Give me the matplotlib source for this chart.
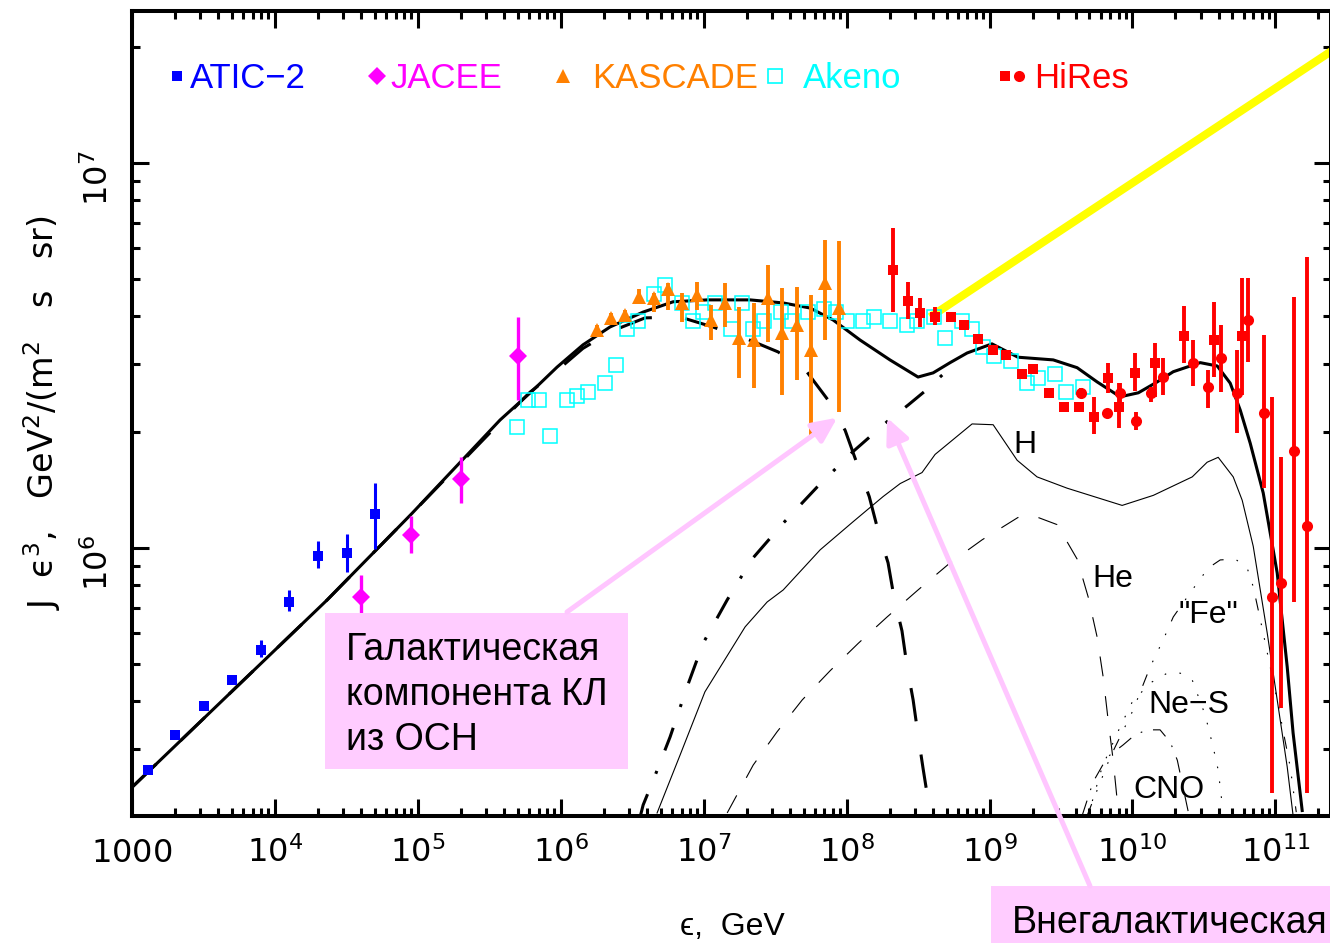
import numpy as np
import matplotlib
matplotlib.use('Agg')
import matplotlib.pyplot as plt
from matplotlib import ticker
from matplotlib.patches import Rectangle, ConnectionPatch
from matplotlib.lines import Line2D

plt.rcParams['font.family'] = ['Liberation Sans', 'DejaVu Sans']
plt.rcParams['mathtext.fontset'] = 'dejavusans'

# ---------------- data (E in GeV, J*E^3) ----------------
atic_e = [1.3e3, 2.0e3, 3.2e3, 5.0e3, 8.0e3, 1.26e4, 2.0e4, 3.2e4, 5.0e4]
atic_j = [2.65e5, 3.27e5, 3.89e5, 4.54e5, 5.43e5, 7.24e5, 9.54e5, 9.7e5, 1.225e6]
atic_lo = [2.61e5, 3.22e5, 3.83e5, 4.42e5, 5.21e5, 6.85e5, 8.87e5, 8.66e5, 9.94e5]
atic_hi = [2.69e5, 3.32e5, 3.95e5, 4.67e5, 5.77e5, 7.8e5, 1.04e6, 1.09e6, 1.475e6]

jacee_e = [4.0e4, 9.0e4, 2.0e5, 5.0e5]
jacee_j = [7.46e5, 1.08e6, 1.51e6, 3.15e6]
jacee_lo = [6.55e5, 9.7e5, 1.31e6, 2.42e6]
jacee_hi = [8.51e5, 1.21e6, 1.72e6, 3.98e6]

kascade_e = [1.78e6, 2.24e6, 2.82e6, 3.55e6, 4.47e6, 5.62e6, 7.08e6, 8.91e6, 1.12e7,
             1.41e7, 1.78e7, 2.24e7, 2.82e7, 3.55e7, 4.47e7, 5.62e7, 7.08e7, 8.91e7]
kascade_j = [3.68e6, 3.95e6, 4.03e6, 4.49e6, 4.46e6, 4.71e6, 4.33e6, 4.54e6, 3.91e6,
             4.33e6, 3.51e6, 3.47e6, 4.46e6, 3.61e6, 3.79e6, 3.27e6, 4.88e6, 4.2e6]
kascade_lo = [3.57e6, 3.83e6, 3.91e6, 4.3e6, 4.1e6, 4.15e6, 3.87e6, 4.15e6, 3.47e6,
              3.75e6, 2.77e6, 2.61e6, 3.43e6, 2.49e6, 2.73e6, 1.94e6, 3.47e6, 2.25e6]
kascade_hi = [3.79e6, 4.07e6, 4.15e6, 4.7e6, 4.6e6, 4.88e6, 4.59e6, 4.91e6, 4.28e6,
              4.88e6, 4.23e6, 4.33e6, 5.43e6, 4.73e6, 4.76e6, 4.54e6, 6.31e6, 6.27e6]

akeno_e = [4.94e5, 5.9e5, 7.05e5, 8.41e5, 1.11e6, 1.30e6, 1.55e6, 2.04e6, 2.44e6, 2.91e6,
           3.48e6, 4.50e6, 5.37e6, 7.06e6, 8.43e6, 9.9e6, 1.2e7, 1.56e7, 1.86e7, 2.22e7,
           2.65e7, 3.48e7, 4.16e7, 5.38e7, 6.97e7, 8.45e7, 1.01e8, 1.30e8, 1.56e8, 2.01e8,
           2.65e8, 3.11e8, 4.09e8, 4.89e8, 6.43e8, 7.55e8, 9.02e8, 1.08e9, 1.42e9, 1.83e9,
           2.19e9, 2.88e9, 3.44e9, 4.52e9]
akeno_j = [2.06e6, 2.42e6, 2.42e6, 1.95e6, 2.42e6, 2.48e6, 2.54e6, 2.68e6, 2.99e6, 3.71e6,
           3.89e6, 4.57e6, 4.82e6, 4.33e6, 3.89e6, 4.1e6, 4.33e6, 3.71e6, 4.33e6, 3.71e6,
           3.89e6, 4.1e6, 3.89e6, 4.1e6, 4.18e6, 4.1e6, 3.89e6, 3.89e6, 3.98e6, 3.89e6,
           3.79e6, 3.89e6, 3.98e6, 3.51e6, 3.89e6, 3.71e6, 3.33e6, 3.15e6, 3.06e6, 2.68e6,
           2.77e6, 2.83e6, 2.54e6, 2.62e6]

hires_sq_e = [2.11e8, 2.69e8, 3.27e8, 4.16e8, 5.38e8, 6.64e8, 8.32e8, 1.06e9, 1.31e9, 1.69e9, 2.02e9,
              2.61e9, 3.33e9, 4.24e9, 5.40e9, 6.76e9, 8.07e9, 1.04e10, 1.44e10, 2.30e10, 3.73e10, 5.86e10]
hires_sq_j = [5.27e6, 4.38e6, 4.07e6, 3.98e6, 3.98e6, 3.79e6, 3.49e6, 3.27e6, 3.17e6, 2.83e6, 2.92e6,
              2.53e6, 2.32e6, 2.32e6, 2.19e6, 2.77e6, 2.32e6, 2.85e6, 3.03e6, 3.56e6, 3.47e6, 3.56e6]
hires_sq_lo = [4.1e6, 3.94e6, 3.75e6, 3.79e6, 3.88e6, 3.7e6, 3.4e6, 3.2e6, 3.1e6, 2.76e6, 2.85e6,
               2.47e6, 2.26e6, 2.26e6, 1.98e6, 2.53e6, 2.05e6, 2.56e6, 2.47e6, 3.03e6, 2.78e6, 2.50e6]
hires_sq_hi = [6.78e6, 4.91e6, 4.46e6, 4.23e6, 4.08e6, 3.88e6, 3.58e6, 3.35e6, 3.25e6, 2.9e6, 2.99e6,
               2.6e6, 2.38e6, 2.38e6, 2.47e6, 3.03e6, 2.68e6, 3.21e6, 3.41e6, 4.26e6, 4.35e6, 5.03e6]

hires_ci_e = [4.38e9, 6.65e9, 8.2e9, 1.06e10, 1.35e10, 1.64e10, 2.66e10, 3.39e10,
              4.18e10, 5.41e10, 6.46e10, 8.36e10, 9.51e10, 1.10e11, 1.36e11, 1.67e11]
hires_ci_j = [2.53e6, 2.24e6, 2.53e6, 2.14e6, 2.53e6, 2.78e6, 3.03e6, 2.62e6,
              3.12e6, 2.53e6, 3.91e6, 2.24e6, 7.46e5, 8.11e5, 1.79e6, 1.14e6]
hires_ci_lo = [2.47e6, 2.18e6, 2.32e6, 2.02e6, 2.39e6, 2.50e6, 2.64e6, 2.31e6,
               2.54e6, 1.99e6, 3.04e6, 1.43e6, 2.31e5, 3.84e5, 7.24e5, 2.31e5]
hires_ci_hi = [2.6e6, 2.3e6, 2.68e6, 2.25e6, 2.62e6, 3.12e6, 3.47e6, 2.90e6,
               3.79e6, 3.27e6, 5.03e6, 3.57e6, 2.47e6, 1.72e6, 4.49e6, 5.70e6]

# model curves
tot_e = [1.0e3, 2.32e4, 9.1e4, 3.76e5, 6.4e5, 9.42e5, 1.43e6, 2.21e6, 3.77e6, 6.11e6,
         1.06e7, 2.11e7, 3.6e7, 5.56e7, 8.05e7, 1.24e8, 2.01e8, 3.16e8, 4.03e8, 5.3e8,
         6.97e8, 1.04e9, 1.58e9, 2.79e9, 4.1e9, 5.66e9, 8.2e9, 1.1e10, 1.49e10, 1.93e10,
         2.98e10, 3.92e10, 4.83e10, 5.68e10, 6.67e10, 8.22e10, 1.03e11, 1.21e11, 1.33e11, 1.54e11]
tot_j = [2.39e5, 7.33e5, 1.23e6, 2.15e6, 2.57e6, 2.95e6, 3.37e6, 3.75e6, 4.1e6, 4.36e6,
         4.41e6, 4.41e6, 4.33e6, 4.2e6, 3.91e6, 3.47e6, 3.08e6, 2.78e6, 2.85e6, 3.03e6,
         3.21e6, 3.39e6, 3.13e6, 3.08e6, 2.94e6, 2.7e6, 2.47e6, 2.53e6, 2.7e6, 2.87e6,
         3.03e6, 2.97e6, 2.68e6, 2.28e6, 1.87e6, 1.39e6, 8.61e5, 4.91e5, 3.31e5, 2.08e5]

gal_e = [1.0e3, 2.32e4, 9.1e4, 3.76e5, 6.1e5, 9.12e5, 1.43e6, 2.28e6, 3.89e6, 6.84e6,
         1.16e7, 2.01e7, 3.32e7, 5.3e7, 7.43e7, 9.77e7, 1.18e8, 1.44e8, 1.66e8, 1.95e8,
         2.15e8, 2.44e8, 2.65e8, 2.92e8, 3.16e8, 3.43e8, 3.84e8]
gal_j = [2.39e5, 7.33e5, 1.23e6, 2.12e6, 2.54e6, 2.86e6, 3.3e6, 3.66e6, 3.96e6, 3.98e6,
         3.75e6, 3.49e6, 3.23e6, 2.86e6, 2.42e6, 2.02e6, 1.66e6, 1.36e6, 1.11e6, 9.15e5,
         7.42e5, 6.09e5, 4.91e5, 4.03e5, 3.27e5, 2.67e5, 2.05e5]

egal_e = [3.59e6, 3.77e6, 4.43e6, 5.82e6, 7.66e6, 9.91e6, 1.46e7, 2.18e7, 3.6e7, 6.22e7,
          1.09e8, 1.98e8, 2.69e8, 3.6e8, 4.89e8]
egal_j = [2.0e5, 2.15e5, 2.49e5, 3.23e5, 4.36e5, 5.66e5, 7.33e5, 9.36e5, 1.16e6, 1.44e6,
          1.77e6, 2.15e6, 2.35e6, 2.57e6, 2.86e6]

h_e = [4.72e6, 6.84e6, 1.02e7, 1.95e7, 2.78e7, 3.6e7, 6.53e7, 1.11e8, 1.8e8, 2.37e8,
       3.37e8, 4.16e8, 7.55e8, 1.06e9, 1.56e9, 2.15e9, 3.49e9, 8.47e9, 1.4e10, 2.62e10,
       3.33e10, 3.98e10, 5.07e10, 5.86e10, 7.0e10, 8.77e10, 1.03e11, 1.21e11, 1.33e11]
h_j = [2.05e5, 2.9e5, 4.23e5, 6.24e5, 7.24e5, 7.78e5, 9.89e5, 1.17e6, 1.36e6, 1.47e6,
       1.57e6, 1.75e6, 2.1e6, 2.09e6, 1.69e6, 1.53e6, 1.43e6, 1.29e6, 1.37e6, 1.53e6,
       1.67e6, 1.72e6, 1.53e6, 1.33e6, 1.01e6, 6.01e5, 4.03e5, 2.7e5, 2.02e5]

he_e = [1.46e7, 2.22e7, 3.26e7, 4.89e7, 7.67e7, 1.21e8, 1.92e8, 3.16e8, 5.3e8, 8.87e8,
        1.58e9, 2.19e9, 2.97e9, 4.1e9, 4.9e9, 5.66e9, 6.24e9, 6.76e9, 7.33e9, 7.82e9]
he_j = [2.05e5, 2.73e5, 3.33e5, 4.03e5, 4.8e5, 5.66e5, 6.62e5, 7.78e5, 9.15e5, 1.05e6,
        1.2e6, 1.2e6, 1.15e6, 9.36e5, 7.46e5, 5.87e5, 4.62e5, 3.57e5, 2.81e5, 2.21e5]

fe_e = [4.82e9, 6.98e9, 1.01e10, 1.33e10, 1.64e10, 1.93e10, 2.62e10, 3.39e10, 4.11e10,
        5.24e10, 6.35e10, 7.0e10, 8.22e10, 9.2e10, 1.03e11, 1.14e11, 1.27e11, 1.4e11]
fe_j = [2.02e5, 2.86e5, 3.79e5, 4.91e5, 5.77e5, 6.62e5, 7.78e5, 8.87e5, 9.31e5,
        9.36e5, 8.87e5, 7.93e5, 6.01e5, 4.91e5, 4.03e5, 3.31e5, 2.7e5, 2.06e5]

nes_e = [4.9e9, 6.14e9, 8.2e9, 9.96e9, 1.33e10, 1.75e10, 2.16e10, 2.62e10, 3.23e10, 3.67e10, 3.98e10, 4.25e10]
nes_j = [2.02e5, 2.7e5, 3.43e5, 3.98e5, 4.46e5, 4.73e5, 4.73e5, 4.54e5, 3.68e5, 3.04e5, 2.65e5, 2.15e5]

cno_e = [4.45e9, 5.31e9, 6.65e9, 8.61e9, 1.04e10, 1.27e10, 1.56e10, 1.84e10, 2.06e10, 2.26e10, 2.46e10]
cno_j = [2.02e5, 2.47e5, 2.86e5, 3.08e5, 3.27e5, 3.37e5, 3.37e5, 3.13e5, 2.81e5, 2.39e5, 2.06e5]

yellow_e = [3.84e8, 2.45e11]
yellow_j = [3.98e6, 1.95e7]

# curve labels: (text, E, J)
curve_labels = [('H', 1.46e9, 1.77e6), ('He', 5.22e9, 7.93e5), ('"Fe"', 2.09e10, 6.38e5),
                ('Ne\u2212S', 1.29e10, 3.72e5), ('CNO', 1.01e10, 2.24e5)]

# arrow tips (E, J)
tip_gal = (8.6e7, 2.18e6)
tip_egal = (1.92e8, 2.18e6)

x_major = [1e3, 1e4, 1e5, 1e6, 1e7, 1e8, 1e9, 1e10, 1e11]
y_major = [1e6, 1e7]

BLUE, MAG, ORANGE, CYAN, RED = '#0000ff', '#ff00ff', '#ff8000', '#00ffff', '#ff0000'
PINK = '#ffccff'

# ---------------- figure ----------------
W, H = 1330, 943
fig = plt.figure(figsize=(W / 100, H / 100), dpi=100)
ax = fig.add_axes([132 / W, (H - 816) / H, (1331 - 132) / W, (816 - 11) / H])
ax.set_xscale('log')
ax.set_yscale('log')
xlo, xhi = 1e3, 2.45e11
ylo, yhi = 2.013e5, 2.482e7


def err(y, lo, hi):
    y, lo, hi = np.array(y), np.array(lo), np.array(hi)
    return [y - lo, hi - y]


ax.plot(yellow_e, yellow_j, color='#ffff00', lw=5.8, solid_capstyle='butt', zorder=2)
ax.plot(h_e, h_j, color='k', lw=0.8, zorder=2)
ax.plot(he_e, he_j, color='k', lw=0.8, dashes=(18, 18), zorder=2)
ax.plot(fe_e, fe_j, color='k', lw=0.8, dashes=(11, 12, 1.5, 12, 1.5, 12, 1.5, 12), zorder=2)
ax.plot(nes_e, nes_j, color='k', lw=0.8, dashes=(1.5, 12), zorder=2)
ax.plot(cno_e, cno_j, color='k', lw=0.8, dashes=(14, 10, 1.5, 10), zorder=2)
ax.plot(gal_e, gal_j, color='k', lw=2.2, dashes=(11, 11), zorder=2)
ax.plot(egal_e, egal_j, color='k', lw=2.2, dashes=(7.9, 7.2, 1, 7.2), zorder=2)
ax.plot(tot_e, tot_j, color='k', lw=2.2, zorder=2)

ax.plot(akeno_e, akeno_j, 's', mfc='none', mec=CYAN, ms=9.6, mew=1.1, zorder=3)
ax.errorbar(atic_e, atic_j, yerr=err(atic_j, atic_lo, atic_hi), fmt='s', color=BLUE,
            ms=7, mew=0, elinewidth=2.2, capsize=3.2, capthick=2.2, zorder=4)
ax.errorbar(jacee_e, jacee_j, yerr=err(jacee_j, jacee_lo, jacee_hi), fmt='D', color=MAG,
            ms=9, mew=0, elinewidth=2.4, capsize=0, zorder=4)
ax.errorbar(kascade_e, kascade_j, yerr=err(kascade_j, kascade_lo, kascade_hi), fmt='^',
            color=ORANGE, ms=9.5, mew=0, elinewidth=2.8, capsize=0, zorder=4)
ax.errorbar(hires_sq_e, hires_sq_j, yerr=err(hires_sq_j, hires_sq_lo, hires_sq_hi), fmt='s',
            color=RED, ms=7.2, mew=0, elinewidth=2.8, capsize=0, zorder=4)
ax.errorbar(hires_ci_e, hires_ci_j, yerr=err(hires_ci_j, hires_ci_lo, hires_ci_hi), fmt='o',
            color=RED, ms=8, mew=0, elinewidth=2.8, capsize=0, zorder=4)

for txt, xe, yj in curve_labels:
    ax.text(xe, yj, txt, fontsize=23, va='baseline', ha='left', zorder=5)

ax.set_xlim(xlo, xhi)
ax.set_ylim(ylo, yhi)

# axes styling
for s in ax.spines.values():
    s.set_linewidth(2.9)


def logfmt(v, pos):
    n = int(round(np.log10(v)))
    return '$1000$' if n == 3 else r'$10^{%d}$' % n


def minors(lo, hi):
    out = []
    for d in range(int(np.floor(np.log10(lo))), int(np.ceil(np.log10(hi))) + 1):
        for m in range(2, 10):
            v = m * 10.0 ** d
            if lo < v < hi:
                out.append(v)
    return out


ax.xaxis.set_major_locator(ticker.FixedLocator(x_major))
ax.yaxis.set_major_locator(ticker.FixedLocator(y_major))
ax.xaxis.set_minor_locator(ticker.FixedLocator(minors(xlo, xhi)))
ax.yaxis.set_minor_locator(ticker.FixedLocator(minors(ylo, yhi)))
for axis in (ax.xaxis, ax.yaxis):
    axis.set_major_formatter(ticker.FuncFormatter(logfmt))
    axis.set_minor_formatter(ticker.NullFormatter())

ax.tick_params(which='both', direction='in', top=True, right=True, width=2.2, labelsize=23)
ax.tick_params(which='major', length=12)
ax.tick_params(which='minor', length=6)
ax.tick_params(axis='x', pad=33)
ax.tick_params(axis='y', pad=12, labelrotation=90)
for t in ax.xaxis.get_major_ticks():
    t.label1.set_va('baseline')

# axis titles
fig.text(732 / W, 1 - 935 / H, '\u03f5,  GeV', fontsize=23, ha='center', va='baseline')
fig.text(42 / W, 1 - 413 / H, 'J  \u03f5$^{3}$,   GeV$^{2}$/(m$^{2}$   s   sr)', fontsize=24,
         family='DejaVu Sans', rotation=90, ha='center', va='center')

# top legend
legend = [
    ('ATIC\u22122', BLUE, 190, [(177, 's', 6.5, True)]),
    ('JACEE', MAG, 390, [(377, 'D', 9, True)]),
    ('KASCADE', ORANGE, 592, [(563, '^', 10, True)]),
    ('Akeno', CYAN, 803, [(775, 's', 10, False)]),
    ('HiRes', RED, 1034, [(1005, 's', 7, True), (1019, 'o', 8, True)]),
]
for label, col, tx, marks in legend:
    fig.text(tx / W, 1 - 88 / H, label, color=col, fontsize=25, va='baseline', ha='left')
    for mx, mk, ms, filled in marks:
        fig.add_artist(Line2D([mx / W], [1 - 76 / H], marker=mk, ms=ms, ls='none',
                              mfc=col if filled else 'none', mec=col,
                              mew=0 if filled else 1.2, transform=fig.transFigure))

# pink annotation boxes and arrows
fig.add_artist(Rectangle((325 / W, 1 - 769 / H), (628 - 325) / W, (769 - 613) / H,
                         facecolor=PINK, edgecolor='none', transform=fig.transFigure, zorder=5))
for line, base in zip(['Галактическая', 'компонента КЛ', 'из ОСН'], [660, 705, 750]):
    fig.text(346 / W, 1 - base / H, line, fontsize=27, va='baseline', ha='left', zorder=6)

fig.add_artist(Rectangle((991 / W, 0), (1340 - 991) / W, (943 - 886) / H,
                         facecolor=PINK, edgecolor='none', transform=fig.transFigure, zorder=5))
fig.text(1012 / W, 1 - 933 / H, 'Внегалактическая', fontsize=27, va='baseline', ha='left', zorder=6)

for tail, tip in [((567 / W, 1 - 612 / H), tip_gal), ((1090 / W, 1 - 886 / H), tip_egal)]:
    con = ConnectionPatch(xyA=tail, coordsA='figure fraction', xyB=tip, coordsB='data', axesB=ax,
                          arrowstyle='-|>,head_length=0.75,head_width=0.35', mutation_scale=20,
                          color='#ffc6ff', lw=3.6, shrinkA=0, shrinkB=0, zorder=5)
    fig.add_artist(con)

fig.savefig('out.png', dpi=100, facecolor='white')
